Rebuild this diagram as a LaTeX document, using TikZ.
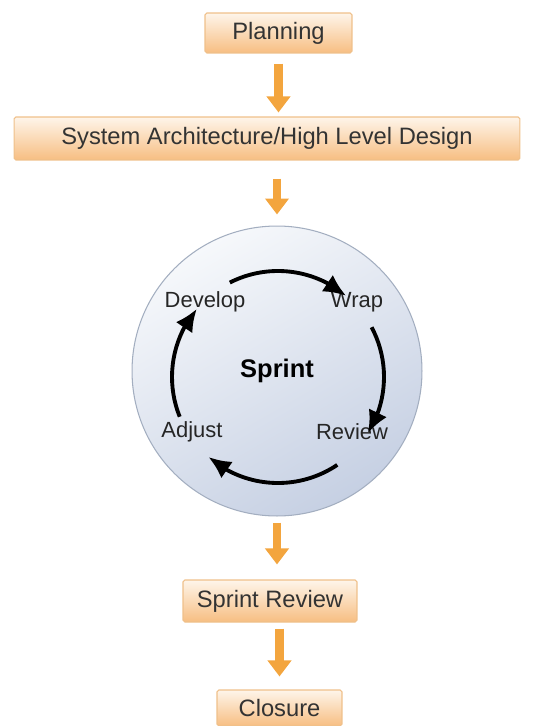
\documentclass[tikz,border=0pt]{standalone}
\usepackage{fontspec}
\setmainfont{Liberation Sans}
\usetikzlibrary{arrows.meta,bending}

\definecolor{boxtop}{HTML}{FEF5EA}
\definecolor{boxbot}{HTML}{F7BE82}
\definecolor{boxline}{HTML}{EFC08A}
\definecolor{flow}{HTML}{F3A53E}
\definecolor{balltop}{HTML}{F6F8FB}
\definecolor{ballbot}{HTML}{C6D0E3}
\definecolor{ballline}{HTML}{A3AEC0}
\definecolor{txt}{HTML}{333333}

\tikzset{
  box/.style={draw=boxline, line width=0.6pt, top color=boxtop, bottom color=boxbot,
    rounded corners=1pt, inner sep=0pt, text=txt, font=\fontsize{13.5}{16}\selectfont},
  flowarrow/.style={draw=flow, line width=0.17cm, -{Triangle[length=0.32cm,width=0.46cm]}},
  cyclearrow/.style={line width=2.2pt, -{Latex[length=0.45cm,width=0.4cm,flex]}},
  cyclelabel/.style={text=black!85, font=\fontsize{12.5}{15}\selectfont}
}

\begin{document}
\begin{tikzpicture}[x=0.02cm,y=0.02cm]
\useasboundingbox (0,0) rectangle (533,-726);

\node[box, minimum width=2.94cm, minimum height=0.8cm] (plan) at (278.5,-33) {Planning};
\node[box, minimum width=10.12cm, minimum height=0.86cm] (arch) at (267,-138.5) {System Architecture/High Level Design};
\node[circle, draw=ballline, line width=0.6pt, top color=balltop, bottom color=ballbot, shading angle=30,
      minimum size=5.8cm, font=\bfseries\fontsize{14.5}{16}\selectfont] (sprint) at (277,-371) {Sprint};
\node[box, minimum width=3.48cm, minimum height=0.84cm] (sreview) at (270,-601) {Sprint Review};
\node[box, minimum width=2.5cm, minimum height=0.72cm] (closure) at (279.5,-708) {Closure};

% labels inside the sprint circle
\node[cyclelabel] (develop) at (205,-302) {Develop};
\node[cyclelabel] (wrap) at (357,-302) {Wrap};
\node[cyclelabel] (review) at (352,-432) {Review};
\node[cyclelabel] (adjust) at (192,-432) {Adjust};

\coordinate (hub) at (278,-377);
\foreach \a/\b in {117/50, 28/-32, -56/-131, 202/140}
    \draw[cyclearrow] ([shift={(\a:106)}]hub) arc[start angle=\a, end angle=\b, radius=106];

\draw[flowarrow, shorten <=0.2cm, shorten >=0.08cm] (plan.south) -- (plan.south |- arch.north);
\draw[flowarrow, shorten <=0.36cm, shorten >=0.22cm] (sprint.north |- arch.south) -- (sprint.north);
\draw[flowarrow, shorten <=0.12cm, shorten >=0.3cm] (sprint.south) -- (sprint.south |- sreview.north);
\draw[flowarrow, shorten <=0.12cm, shorten >=0.26cm] (sreview.south -| closure.north) -- (closure.north);

\end{tikzpicture}
\end{document}
